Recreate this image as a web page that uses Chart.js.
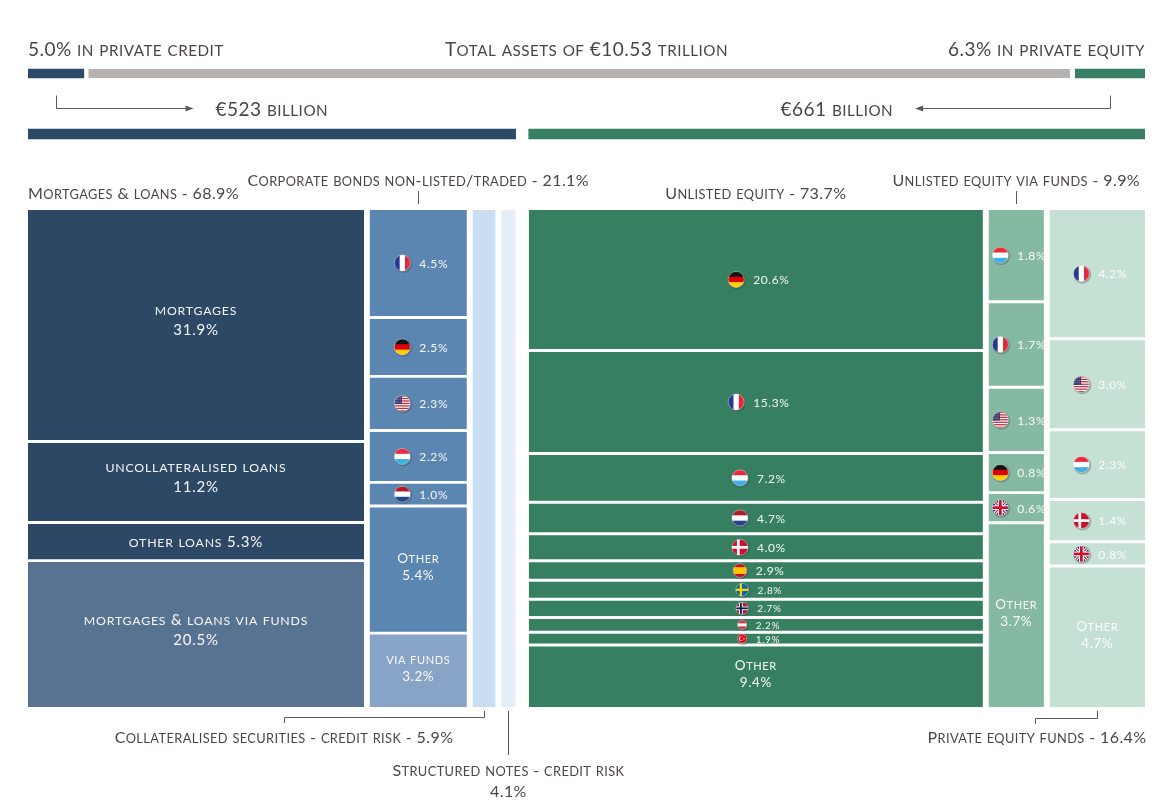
<!DOCTYPE html>
<html lang="en">
<head>
<meta charset="utf-8">
<title>Private markets holdings</title>
<script src="https://cdn.jsdelivr.net/npm/chart.js@4.4.1/dist/chart.umd.min.js"></script>
<style>
 html,body{margin:0;padding:0;background:#ffffff;}
 body{width:1157px;height:806px;position:relative;overflow:hidden;font-family:Lato,sans-serif;}
 canvas{position:absolute;left:0;top:0;}
</style>
</head>
<body>
<canvas id="mainChart" width="1157" height="806"></canvas>
<canvas id="headerChart" width="1157" height="200"></canvas>
<script>
// ---------------- DATA ----------------
const TOTAL_ASSETS_LABEL = 'Total assets of €10.53 trillion';
const SHARE_LABELS = ['Private credit', 'Other assets', 'Private equity'];
const SHARE_VALUES = [5.0, 88.7, 6.3];            // % of total assets
const PANEL_NAMES = ['Private credit', 'Private equity'];
const PANEL_BILLIONS = [523, 661];                // € billion

const CREDIT_COLUMNS = ['Mortgages & loans', 'Corporate bonds non-listed/traded', 'Collateralised securities - credit risk', 'Structured notes - credit risk'];
const CREDIT_COLUMN_VALUES = [68.9, 21.1, 5.9, 4.1];
const EQUITY_COLUMNS = ['Unlisted equity', 'Unlisted equity via funds', 'Private equity funds'];
const EQUITY_COLUMN_VALUES = [73.7, 9.9, 16.4];

const MORTGAGES_LABELS = ['mortgages', 'uncollateralised loans', 'other loans', 'mortgages & loans via funds'];
const MORTGAGES_VALUES = [31.9, 11.2, 5.3, 20.5];
const BONDS_LABELS = ['FR', 'DE', 'US', 'LU', 'NL', 'Other', 'via funds'];
const BONDS_VALUES = [4.5, 2.5, 2.3, 2.2, 1.0, 5.4, 3.2];
const COLLATERALISED_LABELS = ['Collateralised securities'];
const COLLATERALISED_VALUES = [5.9];
const STRUCTURED_LABELS = ['Structured notes'];
const STRUCTURED_VALUES = [4.1];
const UNLISTED_LABELS = ['DE', 'FR', 'LU', 'NL', 'DK', 'ES', 'SE', 'NO', 'AT', 'TR', 'Other'];
const UNLISTED_VALUES = [20.6, 15.3, 7.2, 4.7, 4.0, 2.9, 2.8, 2.7, 2.2, 1.9, 9.4];
const UNLISTED_FUNDS_LABELS = ['LU', 'FR', 'US', 'DE', 'GB', 'Other'];
const UNLISTED_FUNDS_VALUES = [1.8, 1.7, 1.3, 0.8, 0.6, 3.7];
const PE_FUNDS_LABELS = ['FR', 'US', 'LU', 'DK', 'GB', 'Other'];
const PE_FUNDS_VALUES = [4.2, 3.0, 2.3, 1.4, 0.8, 4.7];

// ---------------- STYLE / LAYOUT ----------------
const NAVY = '#2d4a68', GRAY = '#b6b2b0', GREEN = '#378063';
const TEXT = '#4b4644';
const FONT = 'Lato, "Open Sans", sans-serif';
const PANEL_GAP = 14;   // € bn units between the two panels
const COL_GAP = 6;      // € bn units between columns
const GAP_Y = 0.6;      // % units between cells

const columns = [
  {panel: 0, name: CREDIT_COLUMNS[0], share: CREDIT_COLUMN_VALUES[0], labels: MORTGAGES_LABELS, values: MORTGAGES_VALUES, color: '#2c4865', lastColor: '#587391', caption: 'topLeft', big: true},
  {panel: 0, name: CREDIT_COLUMNS[1], share: CREDIT_COLUMN_VALUES[1], labels: BONDS_LABELS, values: BONDS_VALUES, color: '#5b86b2', lastColor: '#87a3c6', caption: 'topTick'},
  {panel: 0, name: CREDIT_COLUMNS[2], share: CREDIT_COLUMN_VALUES[2], labels: COLLATERALISED_LABELS, values: COLLATERALISED_VALUES, color: '#cadef3', hide: true, caption: 'bottomBracketLong'},
  {panel: 0, name: CREDIT_COLUMNS[3], share: CREDIT_COLUMN_VALUES[3], labels: STRUCTURED_LABELS, values: STRUCTURED_VALUES, color: '#e4edf8', hide: true, caption: 'bottomLine'},
  {panel: 1, name: EQUITY_COLUMNS[0], share: EQUITY_COLUMN_VALUES[0], labels: UNLISTED_LABELS, values: UNLISTED_VALUES, color: '#367f61', caption: 'topCenter'},
  {panel: 1, name: EQUITY_COLUMNS[1], share: EQUITY_COLUMN_VALUES[1], labels: UNLISTED_FUNDS_LABELS, values: UNLISTED_FUNDS_VALUES, color: '#86b9a1', caption: 'topTick'},
  {panel: 1, name: EQUITY_COLUMNS[2], share: EQUITY_COLUMN_VALUES[2], labels: PE_FUNDS_LABELS, values: PE_FUNDS_VALUES, color: '#c5e1d4', caption: 'bottomBracketShort'}
];

const panelStart = [0, PANEL_BILLIONS[0] + PANEL_GAP];
const XMAX = panelStart[1] + PANEL_BILLIONS[1];

// build cells as filled line segments (top edge line filled down to bottom value)
const cellDatasets = [];
const panelCum = [0, 0];
columns.forEach((col, ci) => {
  const p = col.panel, pb = PANEL_BILLIONS[p];
  const first = panelCum[p] === 0;
  col.x0 = panelStart[p] + panelCum[p] / 100 * pb + (first ? 0 : COL_GAP);
  panelCum[p] += col.share;
  col.x1 = panelStart[p] + panelCum[p] / 100 * pb;
  let cum = 0;
  col.values.forEach((v, i) => {
    const top = cum / col.share * 100 + (i > 0 ? GAP_Y : 0);
    cum += v;
    const bottom = Math.min(100, cum / col.share * 100);
    const last = i === col.values.length - 1;
    cellDatasets.push({
      label: col.name + ' – ' + col.labels[i],
      data: [{x: col.x0, y: top}, {x: col.x1, y: top}],
      fill: {value: bottom},
      backgroundColor: (last && col.lastColor) ? col.lastColor : col.color,
      borderWidth: 0,
      borderColor: 'rgba(0,0,0,0)',
      pointRadius: 0,
      tension: 0,
      cell: {col: ci, label: col.labels[i], value: v, top: top, bottom: bottom}
    });
  });
});

// ---------------- HELPERS ----------------
// draws text in small capitals (lower-case letters set as reduced capitals)
function txt(ctx, s, x, y, o) {
  o = o || {};
  const size = o.size || 15, ratio = o.ratio || 0.8, weight = o.weight || 'normal';
  const runs = [];
  for (const ch of s) {
    const small = o.caps !== false && ch !== ch.toUpperCase();
    const t = small ? ch.toUpperCase() : ch;
    const L = runs[runs.length - 1];
    if (L && L.small === small) L.t += t; else runs.push({t: t, small: small});
  }
  ctx.save();
  try { ctx.letterSpacing = (o.ls != null ? o.ls : 0.4) + 'px'; } catch (e) {}
  let total = 0;
  runs.forEach(r => {
    ctx.font = weight + ' ' + (r.small ? size * ratio : size) + 'px ' + FONT;
    r.w = ctx.measureText(r.t).width; total += r.w;
  });
  if (o.draw !== false) {
    const align = o.align || 'left';
    let sx = align === 'center' ? x - total / 2 : align === 'right' ? x - total : x;
    ctx.fillStyle = o.color || TEXT;
    ctx.textAlign = 'left';
    ctx.textBaseline = 'alphabetic';
    const base = y + size * 0.36;
    runs.forEach(r => {
      ctx.font = weight + ' ' + (r.small ? size * ratio : size) + 'px ' + FONT;
      ctx.fillText(r.t, sx, base);
      sx += r.w;
    });
  }
  ctx.restore();
  return total;
}
function measure(ctx, s, o) { return txt(ctx, s, 0, 0, Object.assign({}, o, {draw: false})); }
function poly(ctx, pts, color) {
  ctx.save();
  ctx.strokeStyle = color || '#5a5a5a';
  ctx.lineWidth = 1;
  ctx.beginPath();
  pts.forEach((p, i) => i ? ctx.lineTo(p[0], p[1]) : ctx.moveTo(p[0], p[1]));
  ctx.stroke();
  ctx.restore();
}
function arrowHead(ctx, x, y, dir) {
  ctx.save();
  ctx.fillStyle = '#5a5a5a';
  ctx.beginPath();
  ctx.moveTo(x, y);
  ctx.lineTo(x - dir * 8, y - 3);
  ctx.lineTo(x - dir * 8, y + 3);
  ctx.closePath();
  ctx.fill();
  ctx.restore();
}
function drawFlag(ctx, code, cx, cy, r) {
  ctx.save();
  ctx.beginPath(); ctx.arc(cx + 0.9, cy + 0.9, r + 1, 0, Math.PI * 2);
  ctx.fillStyle = 'rgba(70,70,70,0.35)'; ctx.fill();
  ctx.beginPath(); ctx.arc(cx, cy, r, 0, Math.PI * 2); ctx.clip();
  const x = cx - r, y = cy - r, d = 2 * r;
  const hs = cs => cs.forEach((c, i) => { ctx.fillStyle = c; ctx.fillRect(x, y + i * d / cs.length, d, d / cs.length + 0.6); });
  const vs = cs => cs.forEach((c, i) => { ctx.fillStyle = c; ctx.fillRect(x + i * d / cs.length, y, d / cs.length + 0.6, d); });
  const bg = c => { ctx.fillStyle = c; ctx.fillRect(x, y, d, d); };
  const cross = (c, w, off) => { ctx.fillStyle = c; ctx.fillRect(x + d * off - w / 2, y, w, d); ctx.fillRect(x, cy - w / 2, d, w); };
  switch (code) {
    case 'FR': vs(['#24398f', '#ffffff', '#e3283b']); break;
    case 'DE': hs(['#141414', '#dd0000', '#ffce00']); break;
    case 'LU': hs(['#ec2a3b', '#ffffff', '#3fb0e4']); break;
    case 'NL': hs(['#ae1c28', '#ffffff', '#21468b']); break;
    case 'AT': hs(['#e0283a', '#ffffff', '#e0283a']); break;
    case 'ES': bg('#c60b1e'); ctx.fillStyle = '#ffc400'; ctx.fillRect(x, y + d / 4, d, d / 2); break;
    case 'DK': bg('#d2102e'); cross('#ffffff', d * 0.17, 0.4); break;
    case 'SE': bg('#006aa7'); cross('#fecc00', d * 0.18, 0.4); break;
    case 'NO': bg('#ba0c2f'); cross('#ffffff', d * 0.3, 0.4); cross('#00205b', d * 0.15, 0.4); break;
    case 'TR':
      bg('#e30a17');
      ctx.fillStyle = '#fff'; ctx.beginPath(); ctx.arc(cx - r * 0.2, cy, r * 0.5, 0, Math.PI * 2); ctx.fill();
      ctx.fillStyle = '#e30a17'; ctx.beginPath(); ctx.arc(cx - r * 0.08, cy, r * 0.4, 0, Math.PI * 2); ctx.fill();
      ctx.fillStyle = '#fff'; ctx.beginPath(); ctx.arc(cx + r * 0.42, cy, r * 0.14, 0, Math.PI * 2); ctx.fill();
      break;
    case 'US': {
      for (let i = 0; i < 13; i++) { ctx.fillStyle = i % 2 ? '#ffffff' : '#c1273d'; ctx.fillRect(x, y + i * d / 13, d, d / 13 + 0.5); }
      ctx.fillStyle = '#3c3b6e'; ctx.fillRect(x, y, d * 0.48, d * 0.54);
      ctx.fillStyle = 'rgba(255,255,255,0.7)';
      for (let a = 0; a < 3; a++) for (let b = 0; b < 3; b++) ctx.fillRect(x + d * 0.08 + a * d * 0.13, y + d * 0.08 + b * d * 0.15, 0.8, 0.8);
      break;
    }
    case 'GB': {
      bg('#012169');
      ctx.lineCap = 'butt';
      ctx.strokeStyle = '#ffffff'; ctx.lineWidth = d * 0.2;
      ctx.beginPath(); ctx.moveTo(x, y); ctx.lineTo(x + d, y + d); ctx.moveTo(x + d, y); ctx.lineTo(x, y + d); ctx.stroke();
      ctx.strokeStyle = '#c8102e'; ctx.lineWidth = d * 0.07;
      ctx.beginPath(); ctx.moveTo(x, y); ctx.lineTo(x + d, y + d); ctx.moveTo(x + d, y); ctx.lineTo(x, y + d); ctx.stroke();
      cross('#ffffff', d * 0.3, 0.5); cross('#c8102e', d * 0.17, 0.5);
      break;
    }
  }
  ctx.restore();
  ctx.save();
  ctx.beginPath(); ctx.arc(cx, cy, r, 0, Math.PI * 2);
  ctx.strokeStyle = 'rgba(255,255,255,0.55)'; ctx.lineWidth = 0.7; ctx.stroke();
  ctx.restore();
}

// ---------------- MAIN CHART ----------------
const cellLabelsPlugin = {
  id: 'cellLabels',
  afterDatasetsDraw(chart) {
    const ctx = chart.ctx, xs = chart.scales.x, ys = chart.scales.y;
    chart.data.datasets.forEach(ds => {
      const c = ds.cell; const col = columns[c.col];
      if (col.hide) return;
      const px0 = xs.getPixelForValue(col.x0), px1 = xs.getPixelForValue(col.x1);
      const pyt = ys.getPixelForValue(c.top), pyb = ys.getPixelForValue(c.bottom);
      const cx = (px0 + px1) / 2, cy = (pyt + pyb) / 2, h = pyb - pyt;
      const pct = c.value.toFixed(1) + '%';
      const white = 'rgba(255,255,255,0.95)';
      if (/^[A-Z]{2}$/.test(c.label)) {
        const r = Math.min(8, Math.max(4.6, (h - 3) / 2));
        const fs = h < 16 ? 10 : 12;
        const o = {size: fs, color: white, ls: 0.6};
        const tw = measure(ctx, pct, o);
        const gw = 2 * r + 9 + tw;
        const sx = cx - gw / 2 + 3;
        drawFlag(ctx, c.label, sx + r, cy, r);
        txt(ctx, pct, sx + 2 * r + 9, cy + 0.5, o);
      } else {
        const fs = col.big ? 15 : 13.5;
        const o = {size: fs, align: 'center', color: white, ls: col.big ? 0.8 : 0.6, ratio: 0.82};
        if (h >= 45) {
          const lh = col.big ? 20 : 17;
          const off = col.big ? -5 : -3;
          txt(ctx, c.label, cx, cy + off - lh / 2, o);
          txt(ctx, pct, cx, cy + off + lh / 2, Object.assign({}, o, {size: fs}));
        } else {
          txt(ctx, c.label + ' ' + pct, cx, cy, o);
        }
      }
    });
  }
};

const captionsPlugin = {
  id: 'captions',
  afterDraw(chart) {
    const ctx = chart.ctx, xs = chart.scales.x, a = chart.chartArea;
    columns.forEach(col => {
      const px0 = xs.getPixelForValue(col.x0), px1 = xs.getPixelForValue(col.x1);
      const cx = (px0 + px1) / 2;
      const cap = col.name + ' - ' + col.share.toFixed(1) + '%';
      const o = {size: 16, ratio: 0.8, ls: 0.4};
      switch (col.caption) {
        case 'topLeft':
          txt(ctx, cap, px0, a.top - 17, o); break;
        case 'topCenter':
          txt(ctx, cap, cx, a.top - 17, Object.assign({align: 'center'}, o)); break;
        case 'topTick':
          txt(ctx, cap, cx, a.top - 30, Object.assign({align: 'center'}, o));
          poly(ctx, [[Math.round(cx) + 0.5, a.top - 19], [Math.round(cx) + 0.5, a.top - 6]]); break;
        case 'bottomBracketLong': {
          const lx = Math.round(cx - 200);
          poly(ctx, [[Math.round(cx) + 0.5, a.bottom + 4], [Math.round(cx) + 0.5, a.bottom + 10.5], [lx + 0.5, a.bottom + 10.5], [lx + 0.5, a.bottom + 16]]);
          txt(ctx, cap, lx, a.bottom + 30, Object.assign({align: 'center'}, o)); break;
        }
        case 'bottomBracketShort': {
          const lx = Math.round(cx - 62);
          poly(ctx, [[Math.round(cx) + 0.5, a.bottom + 4], [Math.round(cx) + 0.5, a.bottom + 11.5], [lx + 0.5, a.bottom + 11.5], [lx + 0.5, a.bottom + 17]]);
          txt(ctx, cap, lx + 2, a.bottom + 30, Object.assign({align: 'center'}, o)); break;
        }
        case 'bottomLine':
          poly(ctx, [[Math.round(cx) + 0.5, a.bottom + 4], [Math.round(cx) + 0.5, a.bottom + 48]]);
          txt(ctx, col.name, cx, a.bottom + 63, Object.assign({align: 'center'}, o));
          txt(ctx, col.share.toFixed(1) + '%', cx, a.bottom + 84, Object.assign({align: 'center'}, o));
          break;
      }
    });
  }
};

new Chart(document.getElementById('mainChart'), {
  type: 'line',
  data: {datasets: cellDatasets},
  options: {
    responsive: false,
    animation: false,
    events: [],
    layout: {padding: {left: 28, right: 12, top: 210, bottom: 99}},
    scales: {
      x: {type: 'linear', min: 0, max: XMAX, display: false},
      y: {type: 'linear', min: 0, max: 100, reverse: true, display: false}
    },
    elements: {point: {radius: 0}, line: {tension: 0}},
    plugins: {legend: {display: false}, tooltip: {enabled: false}}
  },
  plugins: [cellLabelsPlugin, captionsPlugin]
});

// ---------------- HEADER CHART ----------------
const shareRanges = [];
(function () { let acc = 0; SHARE_VALUES.forEach(v => { shareRanges.push([acc, acc + v]); acc += v; }); })();

const headerPlugin = {
  id: 'headerText',
  afterDraw(chart) {
    const ctx = chart.ctx, xs = chart.scales.xs, xb = chart.scales.xb, ys = chart.scales.y;
    const y1 = ys.getPixelForValue(0), y2 = ys.getPixelForValue(1);
    const o = {size: 19, ratio: 0.8, ls: 0.5};
    txt(ctx, SHARE_VALUES[0].toFixed(1) + '% in private credit', xs.getPixelForValue(0), y1 - 24, o);
    txt(ctx, TOTAL_ASSETS_LABEL, (xs.left + xs.right) / 2, y1 - 24, Object.assign({align: 'center'}, o));
    txt(ctx, SHARE_VALUES[2].toFixed(1) + '% in private equity', xs.getPixelForValue(100), y1 - 24, Object.assign({align: 'right'}, o));

    const c1 = (xb.getPixelForValue(panelStart[0]) + xb.getPixelForValue(panelStart[0] + PANEL_BILLIONS[0])) / 2;
    const c2 = (xb.getPixelForValue(panelStart[1]) + xb.getPixelForValue(panelStart[1] + PANEL_BILLIONS[1])) / 2;
    const l1 = '€' + PANEL_BILLIONS[0] + ' billion', l2 = '€' + PANEL_BILLIONS[1] + ' billion';
    const w1 = txt(ctx, l1, c1, y2 - 25, Object.assign({align: 'center'}, o));
    const w2 = txt(ctx, l2, c2, y2 - 25, Object.assign({align: 'center'}, o));

    const ay = Math.round(y2 - 26) + 0.5;
    const sx1 = Math.round(xs.getPixelForValue(shareRanges[0][0] + SHARE_VALUES[0] / 2)) + 0.5;
    const ex1 = c1 - w1 / 2 - 22;
    poly(ctx, [[sx1, y1 + 22], [sx1, ay], [ex1 - 6, ay]]);
    arrowHead(ctx, ex1, ay, 1);
    const sx2 = Math.round(xs.getPixelForValue(shareRanges[2][0] + SHARE_VALUES[2] / 2)) + 0.5;
    const ex2 = c2 + w2 / 2 + 22;
    poly(ctx, [[sx2, y1 + 22], [sx2, ay], [ex2 + 6, ay]]);
    arrowHead(ctx, ex2, ay, -1);
  }
};

new Chart(document.getElementById('headerChart'), {
  type: 'bar',
  data: {
    labels: ['Total assets', 'Private markets'],
    datasets: [
      {label: SHARE_LABELS[0], data: [shareRanges[0], null], xAxisID: 'xs', backgroundColor: NAVY, barThickness: 9, grouped: false},
      {label: SHARE_LABELS[1], data: [shareRanges[1], null], xAxisID: 'xs', backgroundColor: GRAY, borderColor: '#ffffff',
        borderWidth: {left: 5, right: 5, top: 0, bottom: 0}, borderSkipped: false, barThickness: 9, grouped: false},
      {label: SHARE_LABELS[2], data: [shareRanges[2], null], xAxisID: 'xs', backgroundColor: GREEN, barThickness: 9, grouped: false},
      {label: PANEL_NAMES[0] + ' (€ bn)', data: [null, [panelStart[0], panelStart[0] + PANEL_BILLIONS[0]]], xAxisID: 'xb', backgroundColor: NAVY, barThickness: 10, grouped: false},
      {label: PANEL_NAMES[1] + ' (€ bn)', data: [null, [panelStart[1], panelStart[1] + PANEL_BILLIONS[1]]], xAxisID: 'xb', backgroundColor: GREEN, barThickness: 10, grouped: false}
    ]
  },
  options: {
    indexAxis: 'y',
    responsive: false,
    animation: false,
    events: [],
    layout: {padding: {left: 28, right: 12, top: 43.25, bottom: 35.75}},
    scales: {
      y: {type: 'category', display: false, offset: true},
      xs: {type: 'linear', axis: 'x', min: 0, max: 100, display: false},
      xb: {type: 'linear', axis: 'x', min: 0, max: XMAX, display: false}
    },
    plugins: {legend: {display: false}, tooltip: {enabled: false}}
  },
  plugins: [headerPlugin]
});
</script>
</body>
</html>
